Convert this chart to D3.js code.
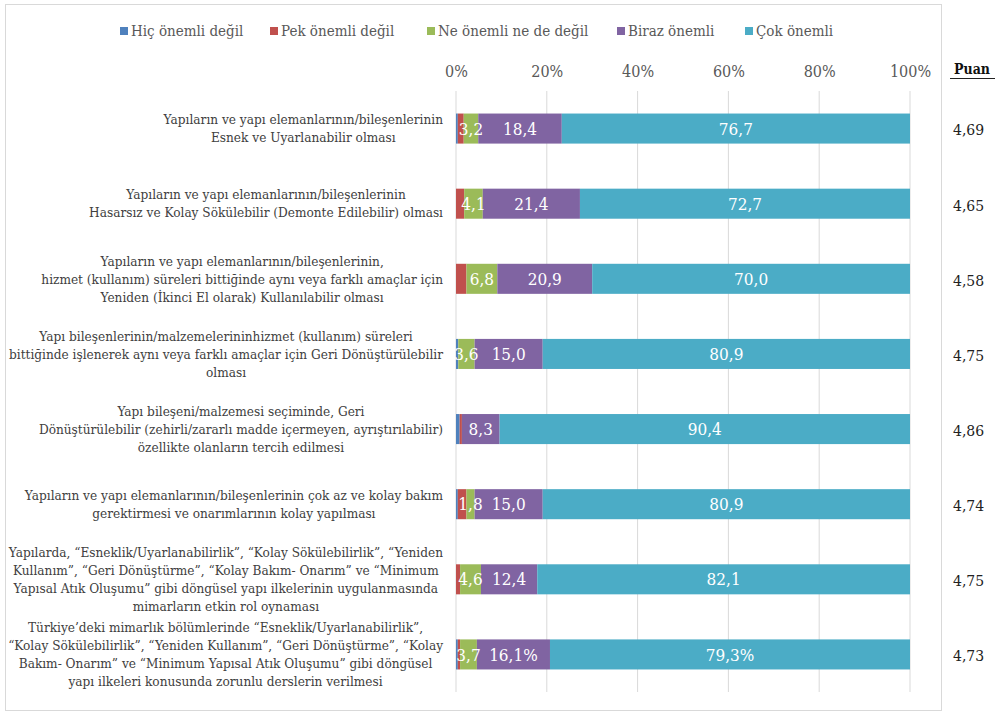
<!DOCTYPE html>
<html>
<head>
<meta charset="utf-8">
<script src="https://cdn.jsdelivr.net/npm/d3@7"></script>
<style>
  body { margin: 0; background: #fff; }
  svg { display: block; }
</style>
</head>
<body>
<div id="chart"></div>
<script>
const categories = [
  ['Yapıların ve yapı elemanlarının/bileşenlerinin', 'Esnek ve Uyarlanabilir olması'],
  ['Yapıların ve yapı elemanlarının/bileşenlerinin', 'Hasarsız ve Kolay Sökülebilir (Demonte Edilebilir) olması'],
  ['Yapıların ve yapı elemanlarının/bileşenlerinin,', 'hizmet (kullanım) süreleri bittiğinde aynı veya farklı amaçlar için', 'Yeniden (İkinci El olarak) Kullanılabilir olması'],
  ['Yapı bileşenlerinin/malzemelerininhizmet (kullanım) süreleri', 'bittiğinde işlenerek aynı veya farklı amaçlar için Geri Dönüştürülebilir', 'olması'],
  ['Yapı bileşeni/malzemesi seçiminde, Geri', 'Dönüştürülebilir (zehirli/zararlı madde içermeyen, ayrıştırılabilir)', 'özellikte olanların tercih edilmesi'],
  ['Yapıların ve yapı elemanlarının/bileşenlerinin çok az ve kolay bakım', 'gerektirmesi ve onarımlarının kolay yapılması'],
  ['Yapılarda, “Esneklik/Uyarlanabilirlik”, “Kolay Sökülebilirlik”, “Yeniden', 'Kullanım”, “Geri Dönüştürme”, “Kolay Bakım- Onarım” ve “Minimum', 'Yapısal Atık Oluşumu” gibi döngüsel yapı ilkelerinin uygulanmasında', 'mimarların etkin rol oynaması'],
  ['Türkiye’deki mimarlık bölümlerinde “Esneklik/Uyarlanabilirlik”,', '“Kolay Sökülebilirlik”, “Yeniden Kullanım”, “Geri Dönüştürme”, “Kolay', 'Bakım- Onarım” ve “Minimum Yapısal Atık Oluşumu” gibi döngüsel', 'yapı ilkeleri konusunda zorunlu derslerin verilmesi']
];

const seriesNames = ['Hiç önemli değil', 'Pek önemli değil', 'Ne önemli ne de değil', 'Biraz önemli', 'Çok önemli'];
const seriesColors = ['#4F81BD', '#C0504D', '#9BBB59', '#8064A2', '#4BACC6'];

const hicOnemliDegil = [0.4, 0, 0, 0.5, 0.8, 0.4, 0, 0.4];
const pekOnemliDegil = [1.3, 1.8, 2.3, 0, 0.5, 1.9, 0.9, 0.5];
const neOnemliNeDe = [3.2, 4.1, 6.8, 3.6, 0, 1.8, 4.6, 3.7];
const birazOnemli = [18.4, 21.4, 20.9, 15.0, 8.3, 15.0, 12.4, 16.1];
const cokOnemli = [76.7, 72.7, 70.0, 80.9, 90.4, 80.9, 82.1, 79.3];

const neLabels = ['3,2', '4,1', '6,8', '3,6', '', '1,8', '4,6', '3,7'];
const birazLabels = ['18,4', '21,4', '20,9', '15,0', '8,3', '15,0', '12,4', '16,1%'];
const cokLabels = ['76,7', '72,7', '70,0', '80,9', '90,4', '80,9', '82,1', '79,3%'];

const puan = ['4,69', '4,65', '4,58', '4,75', '4,86', '4,74', '4,75', '4,73'];
const xTicks = [0, 20, 40, 60, 80, 100];

const W = 995, H = 716;
const serif = '"DejaVu Serif Condensed", "DejaVu Serif", serif';
const serifWide = '"DejaVu Serif", serif';

const svg = d3.select('#chart').append('svg')
  .attr('width', W).attr('height', H);

// chart frame
svg.append('rect')
  .attr('x', 5.5).attr('y', 4.5)
  .attr('width', 936).attr('height', 706)
  .attr('fill', '#fff')
  .attr('stroke', '#D9D9D9');

const x = d3.scaleLinear().domain([0, 100]).range([456, 910]);
const y = d3.scaleBand().domain(d3.range(categories.length))
  .range([91, 692]).paddingInner(0.6).paddingOuter(0.3);

const seriesData = [hicOnemliDegil, pekOnemliDegil, neOnemliNeDe, birazOnemli, cokOnemli];
const rows = categories.map((c, i) => {
  const r = { i };
  seriesNames.forEach((s, k) => { r[s] = seriesData[k][i]; });
  return r;
});
const stacked = d3.stack().keys(seriesNames)(rows);

// gridlines
svg.append('g').selectAll('line')
  .data(xTicks)
  .join('line')
  .attr('x1', d => x(d)).attr('x2', d => x(d))
  .attr('y1', 91).attr('y2', 692)
  .attr('stroke', '#D9D9D9').attr('stroke-width', 1);

// axis labels on top
const xAxis = svg.append('g')
  .attr('transform', 'translate(0,77)')
  .call(d3.axisTop(x).tickValues(xTicks).tickFormat(d => d + '%').tickSize(0).tickPadding(0));
xAxis.select('.domain').remove();
xAxis.selectAll('text')
  .attr('font-family', serif)
  .attr('font-size', 16)
  .attr('fill', '#595959')
  .attr('dy', '0');

// bars
const layers = svg.append('g').selectAll('g')
  .data(stacked)
  .join('g')
  .attr('fill', (d, k) => seriesColors[k]);

layers.selectAll('rect')
  .data(d => d)
  .join('rect')
  .attr('x', d => x(d[0]))
  .attr('y', (d, i) => y(i))
  .attr('width', d => x(d[1]) - x(d[0]))
  .attr('height', y.bandwidth());

// data labels
const labelSets = [null, null, neLabels, birazLabels, cokLabels];
stacked.forEach((layer, k) => {
  if (!labelSets[k]) return;
  svg.append('g').selectAll('text')
    .data(layer)
    .join('text')
    .attr('x', d => (x(d[0]) + x(d[1])) / 2)
    .attr('y', (d, i) => y(i) + y.bandwidth() / 2)
    .attr('dy', '0.36em')
    .attr('text-anchor', 'middle')
    .attr('font-family', serif)
    .attr('font-size', 17)
    .attr('fill', '#fff')
    .text((d, i) => labelSets[k][i]);
});

// category labels: each block centred, block right-aligned
const lineH = 18;
const catG = svg.append('g')
  .attr('font-family', serif)
  .attr('font-size', 13.5)
  .attr('fill', '#404040');

categories.forEach((lines, i) => {
  const t = catG.append('text').attr('text-anchor', 'middle');
  const cy = y(i) + y.bandwidth() / 2;
  const y0 = cy - (lines.length - 1) * lineH / 2;
  const spans = lines.map((ln, j) => t.append('tspan')
    .attr('y', y0 + j * lineH)
    .attr('dy', '0.35em')
    .text(ln));
  const maxW = d3.max(spans, s => s.node().getComputedTextLength());
  spans.forEach(s => s.attr('x', 443 - maxW / 2));
});

// legend
const legendX = [120, 270, 427, 617, 745];
const legend = svg.append('g').selectAll('g')
  .data(seriesNames)
  .join('g')
  .attr('transform', (d, k) => `translate(${legendX[k]},31)`);
legend.append('rect')
  .attr('x', 0).attr('y', -4)
  .attr('width', 8).attr('height', 8)
  .attr('fill', (d, k) => seriesColors[k]);
legend.append('text')
  .attr('x', 11).attr('dy', '0.35em')
  .attr('font-family', serif)
  .attr('font-size', 15)
  .attr('fill', '#595959')
  .text(d => d);

// Puan column
svg.append('text')
  .attr('x', 954).attr('y', 74)
  .attr('font-family', serif)
  .attr('font-size', 14)
  .attr('font-weight', 'bold')
  .attr('fill', '#111')
  .text('Puan');
svg.append('line')
  .attr('x1', 950).attr('x2', 995)
  .attr('y1', 78.5).attr('y2', 78.5)
  .attr('stroke', '#222').attr('stroke-width', 1);

svg.append('g').selectAll('text')
  .data(puan)
  .join('text')
  .attr('x', 953)
  .attr('y', (d, i) => y(i) + y.bandwidth() / 2 + 2)
  .attr('dy', '0.35em')
  .attr('font-family', serifWide)
  .attr('font-size', 14)
  .attr('fill', '#222')
  .text(d => d);
</script>
</body>
</html>
